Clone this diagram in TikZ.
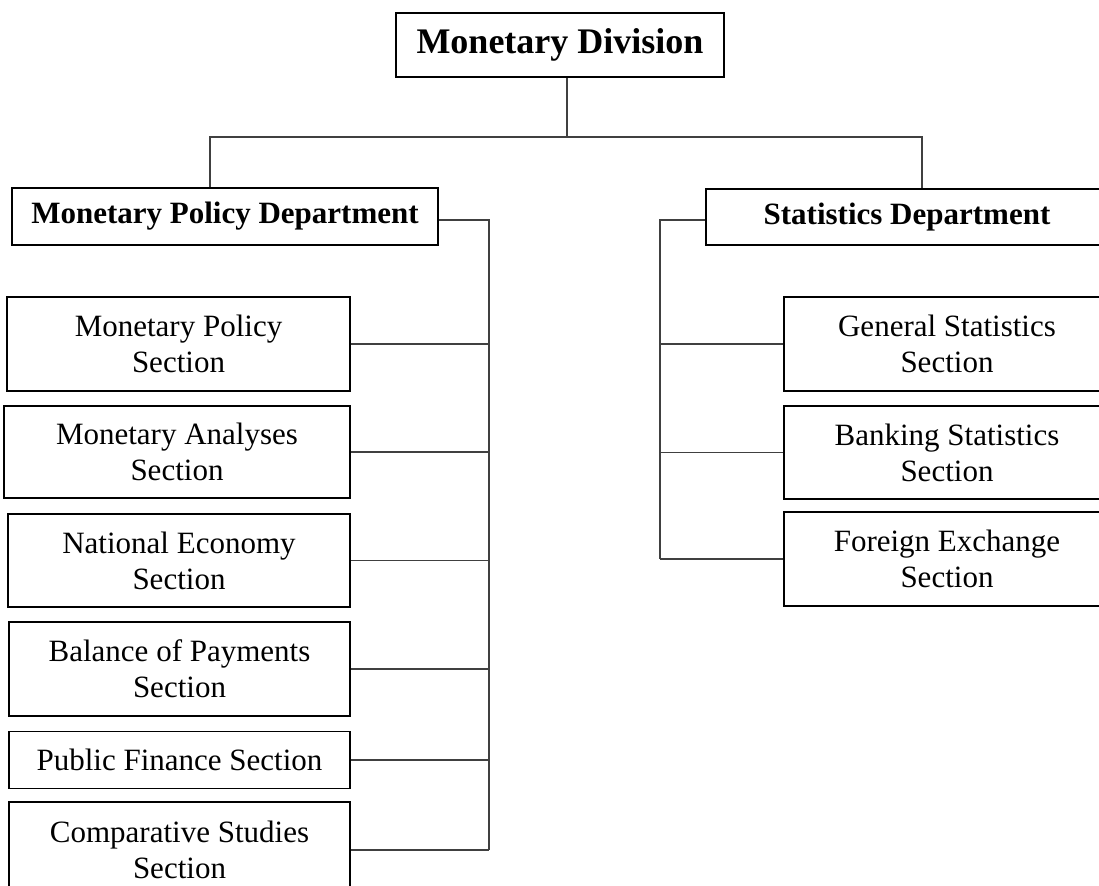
\documentclass[tikz,border=0pt]{standalone}
\usepackage{fontspec}
\setmainfont{Liberation Serif}

\tikzset{
	unit/.style={draw, line width=0.6pt, inner sep=0pt, align=center, font=\fontsize{15.5}{18}\selectfont},
	dept/.style={unit, font=\bfseries\fontsize{15.5}{18}\selectfont},
	link/.style={draw=black!75, line width=0.6pt},
}

\begin{document}
\begin{tikzpicture}[x=0.5pt, y=-0.5pt]
	\useasboundingbox (0,0) rectangle (1099,886);
	\clip (0,0) rectangle (1099,886);
	\node (div) at (560,45) [unit, line width=1pt, minimum width=164pt, minimum height=32pt, font=\bfseries\fontsize{18}{21}\selectfont] {Monetary Division};
	\node (mpd) at (225,216.5) [dept, minimum width=213pt, minimum height=28.5pt] {Monetary Policy Department};
	\node (sd) at (907,217) [dept, minimum width=201pt, minimum height=28pt] {Statistics Department};
		\node (mps) at (178.5,344) [unit, minimum width=171.5pt, minimum height=47pt] {Monetary Policy\\Section};
		\node (mas) at (177,452) [unit, minimum width=173pt, minimum height=46pt] {Monetary Analyses\\Section};
		\node (nes) at (179,560.5) [unit, minimum width=171pt, minimum height=46.5pt] {National Economy\\Section};
		\node (bps) at (179.5,669) [unit, minimum width=170.5pt, minimum height=47pt] {Balance of Payments\\Section};
		\node (pfs) at (179.5,760) [unit, minimum width=170.5pt, minimum height=28.5pt] {Public Finance Section};
		\node (css) at (179.5,850) [unit, minimum width=170.5pt, minimum height=48pt] {Comparative Studies\\Section};
		\node (gss) at (947,344) [unit, minimum width=163pt, minimum height=47pt] {General Statistics\\Section};
		\node (bss) at (947,452.5) [unit, minimum width=163pt, minimum height=46.5pt] {Banking Statistics\\Section};
		\node (fes) at (947,559) [unit, minimum width=163pt, minimum height=47pt] {Foreign Exchange\\Section};
	\coordinate (hub) at (567,137);
	\coordinate (lhub) at (210,137);
	\coordinate (rhub) at (922,137);
	\coordinate (ltrunk) at (489,220);
	\coordinate (rtrunk) at (660,220);
	\draw[link] (div.south -| hub) -- (hub);
	\draw[link] (mpd.north -| lhub) -- (lhub) -- (rhub) -- (sd.north -| rhub);
	\draw[link] (mpd.east |- ltrunk) -- (ltrunk) -- (css.east -| ltrunk);
	\draw[link] (sd.west |- rtrunk) -- (rtrunk) -- (fes.west -| rtrunk);
	\foreach \s in {mps,mas,nes,bps,pfs,css}
		\draw[link] (\s.east) -- (\s.east -| ltrunk);
	\foreach \s in {gss,bss,fes}
		\draw[link] (\s.west) -- (\s.west -| rtrunk);
\end{tikzpicture}
\end{document}
